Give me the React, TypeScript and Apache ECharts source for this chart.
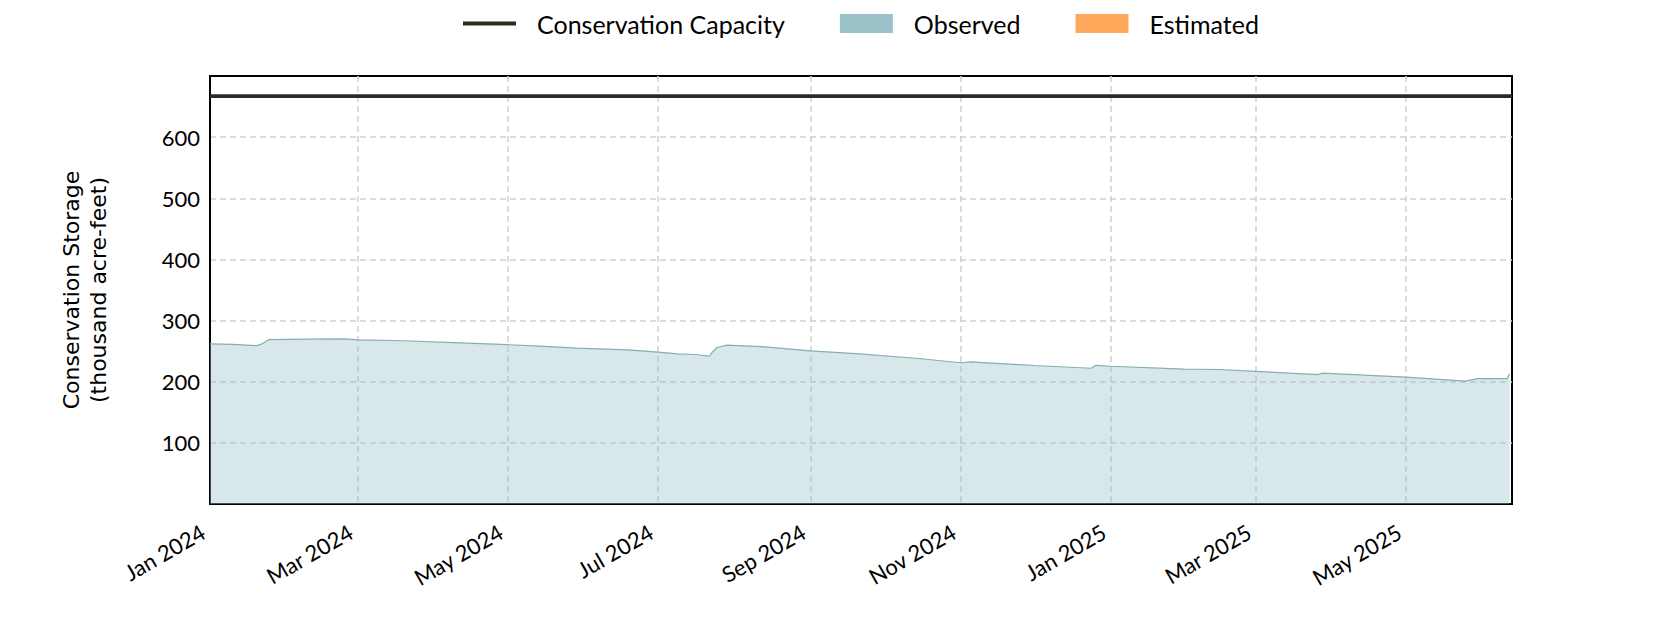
import { useEffect, useRef } from "react";
import * as echarts from "echarts";

// observed storage, thousand acre-feet
const observedDates = [
  "2024-01-01", "2024-01-10", "2024-01-20", "2024-01-22", "2024-01-25",
  "2024-02-10", "2024-02-25", "2024-03-01", "2024-03-20", "2024-04-09",
  "2024-05-01", "2024-05-12", "2024-05-29", "2024-06-19", "2024-07-01",
  "2024-07-09", "2024-07-16", "2024-07-22", "2024-07-23", "2024-07-25",
  "2024-07-29", "2024-08-12", "2024-09-01", "2024-09-21", "2024-10-15",
  "2024-11-01", "2024-11-05", "2024-12-01", "2024-12-24", "2024-12-26",
  "2025-01-01", "2025-01-31", "2025-02-14", "2025-03-01", "2025-03-26",
  "2025-03-28", "2025-05-01", "2025-05-25", "2025-05-30", "2025-06-11",
  "2025-06-12",
];
const observedValues = [
  262, 261, 259, 261.5, 269,
  269.5, 270, 268.5, 267, 264,
  260.5, 258.5, 255, 252, 248.5,
  245.5, 244.5, 242, 248, 256,
  259.8, 257.5, 250.5, 245.5, 238,
  231, 232.5, 226.5, 222, 226.8,
  225.3, 220.5, 220, 217, 211.5,
  214, 207.5, 201, 205, 205,
  213,
];

const estimatedValues: [string, number][] = [];

const capacityValue = 667;
const axisStart = "2024-01-01";
const axisEnd = "2025-06-13";

const monthNames = ["Jan", "Feb", "Mar", "Apr", "May", "Jun", "Jul", "Aug", "Sep", "Oct", "Nov", "Dec"];

const DAY = 86400000;

const App = () => {
  const chartRef = useRef<HTMLDivElement | null>(null);

  useEffect(() => {
    if (!chartRef.current) {
      return;
    }
    const instance = echarts.init(chartRef.current, undefined, { renderer: "svg" });

    const gridLine = {
      show: true,
      showMinLine: false,
      showMaxLine: false,
      lineStyle: { color: "#cfcfcf", width: 1.5, type: [6, 4] as number[] },
    };

    const option: echarts.EChartsOption = {
      animation: false,
      backgroundColor: "#ffffff",
      textStyle: { fontFamily: "Lato, sans-serif", color: "#000" },
      legend: {
        top: 6,
        left: 458,
        itemWidth: 53,
        itemHeight: 19,
        itemGap: 55,
        symbolKeepAspect: true,
        textStyle: { fontSize: 25, color: "#000", padding: [0, 0, 0, 16] },
        data: [
          {
            name: "Conservation Capacity",
            icon: "path://M0,0H53V3.8H0Z",
            itemStyle: { color: "#2f2a20" },
          },
          { name: "Observed", icon: "rect", itemStyle: { color: "#9dc3ca" } },
          { name: "Estimated", icon: "rect", itemStyle: { color: "#ffa85c" } },
        ],
      },
      grid: {
        left: 210,
        right: 168,
        top: 76,
        bottom: 126,
        show: true,
        borderColor: "#000",
        borderWidth: 2,
        backgroundColor: "transparent",
      },
      xAxis: {
        type: "time",
        min: axisStart,
        max: axisEnd,
        splitNumber: 8,
        minInterval: 62 * DAY,
        maxInterval: 80 * DAY,
        axisLine: { show: true, lineStyle: { color: "#000", width: 2 } },
        axisTick: { show: false },
        splitLine: gridLine,
        axisLabel: {
          rotate: 30,
          margin: 22,
          fontSize: 22,
          color: "#000",
          padding: [0, 8, 0, 0],
          showMaxLabel: false,
          formatter: (value: number) => {
            const d = new Date(value);
            return `${monthNames[d.getMonth()]} ${d.getFullYear()}`;
          },
        },
      },
      yAxis: {
        type: "value",
        min: 0,
        max: 700,
        interval: 100,
        name: "Conservation Storage\n(thousand acre-feet)",
        nameLocation: "middle",
        nameGap: 98,
        nameTextStyle: {
          fontFamily: "DejaVu Sans, sans-serif",
          fontSize: 22,
          lineHeight: 27,
          color: "#000",
        },
        axisLine: { show: true, lineStyle: { color: "#000", width: 2 } },
        axisTick: { show: false },
        splitLine: gridLine,
        axisLabel: {
          fontSize: 22,
          margin: 10,
          color: "#000",
          formatter: (v: number) => (v === 0 || v === 700 ? "" : String(v)),
        },
      },
      series: [
        {
          name: "Observed",
          type: "line",
          symbol: "none",
          data: observedDates.map((d, i) => [d, observedValues[i]]),
          lineStyle: { color: "#88adb5", width: 1.2 },
          itemStyle: { color: "#9dc3ca" },
          areaStyle: { color: "#9dc3ca", opacity: 0.4 },
          z: 2,
        },
        {
          name: "Estimated",
          type: "line",
          symbol: "none",
          data: estimatedValues,
          lineStyle: { color: "#ffa85c" },
          itemStyle: { color: "#ffa85c" },
          areaStyle: { color: "#ffa85c", opacity: 0.4 },
        },
        {
          name: "Conservation Capacity",
          type: "line",
          symbol: "none",
          data: [
            [axisStart, capacityValue],
            [axisEnd, capacityValue],
          ],
          lineStyle: { color: "#2f2a20", width: 3.8 },
          itemStyle: { color: "#2f2a20" },
          z: 3,
        },
      ],
    };

    instance.setOption(option);

    return () => {
      instance.dispose();
    };
  }, []);

  return (
    <div
      ref={chartRef}
      style={{ position: "fixed", left: 0, top: 0, width: 1680, height: 630 }}
    />
  );
};

export default App;
